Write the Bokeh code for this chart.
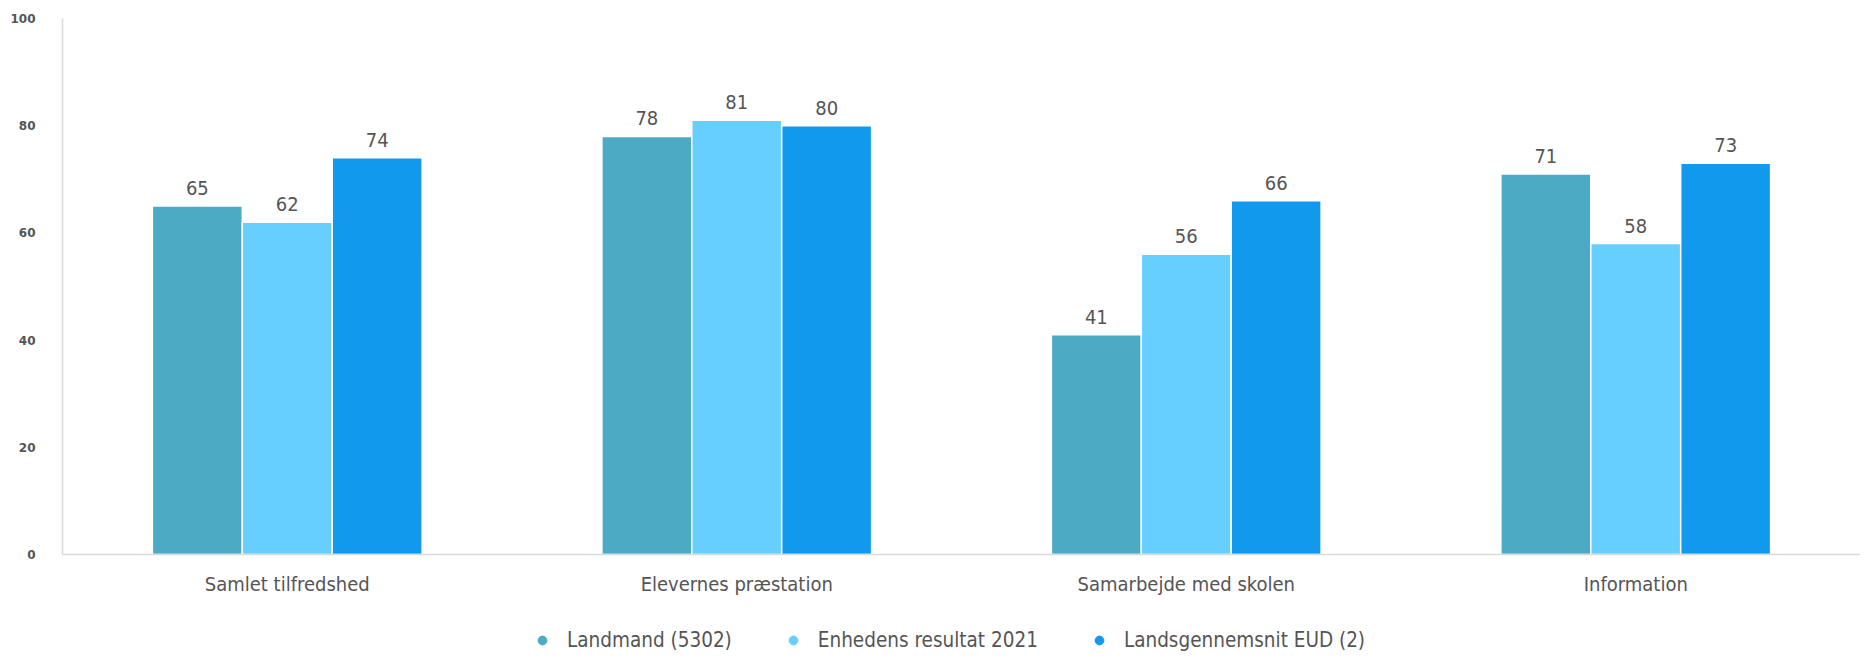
from bokeh.plotting import figure
from bokeh.models import FactorRange, Range1d, Legend, LegendItem, ColumnDataSource
from bokeh.layouts import column
from bokeh.transform import dodge
from bokeh.core.properties import value
from bokeh.embed import file_html
from bokeh.resources import INLINE

categories = ["Samlet tilfredshed", "Elevernes præstation", "Samarbejde med skolen", "Information"]
series_names = ["Landmand (5302)", "Enhedens resultat 2021", "Landsgennemsnit EUD (2)"]
landmand = [65, 78, 41, 71]
enheden = [62, 81, 56, 58]
landsgennemsnit = [74, 80, 66, 73]
y_ticks = [0, 20, 40, 60, 80, 100]

colors = ["#4BAAC4", "#66CFFF", "#1199EE"]
offsets = [-0.2, 0.0, 0.2]
series = [landmand, enheden, landsgennemsnit]

label_font = "DejaVu Sans Condensed"
text_grey = "#555555"

p = figure(width=1860, height=628, x_range=FactorRange(*categories), y_range=Range1d(0, 100),
           output_backend="svg", toolbar_location=None,
           min_border_left=62, min_border_right=0, min_border_top=18, min_border_bottom=74)
p.outline_line_color = None
p.xgrid.grid_line_color = None
p.ygrid.grid_line_color = None

for name, vals, col, off in zip(series_names, series, colors, offsets):
    src = ColumnDataSource(dict(cat=categories, val=vals, lab=[str(v) for v in vals]))
    p.vbar(x=dodge("cat", off, range=p.x_range), top="val", width=0.2, bottom=0,
           source=src, fill_color=col, line_color="white", line_width=1.5)
    p.text(x=dodge("cat", off, range=p.x_range), y="val", text="lab", source=src,
           text_align="center", text_baseline="alphabetic", y_offset=-18,
           text_font=value(label_font), text_font_size="20px", text_color=text_grey)

p.yaxis.ticker = y_ticks
p.yaxis.axis_line_color = "#d9d9d9"
p.yaxis.axis_line_width = 1.5
p.yaxis.major_tick_line_color = None
p.yaxis.minor_tick_line_color = None
p.yaxis.major_tick_out = 0
p.yaxis.major_tick_in = 0
p.yaxis.minor_tick_out = 0
p.yaxis.major_label_standoff = 27
p.yaxis.major_label_text_font = "DejaVu Sans"
p.yaxis.major_label_text_font_style = "bold"
p.yaxis.major_label_text_font_size = "12px"
p.yaxis.major_label_text_color = text_grey

p.xaxis.axis_line_color = "#d9d9d9"
p.xaxis.axis_line_width = 1.5
p.xaxis.major_tick_line_color = None
p.xaxis.minor_tick_line_color = None
p.xaxis.major_tick_out = 0
p.xaxis.major_tick_in = 0
p.xaxis.minor_tick_out = 0
p.xaxis.major_label_standoff = 17
p.xaxis.major_label_text_font = label_font
p.xaxis.major_label_text_font_size = "20px"
p.xaxis.major_label_text_color = text_grey

# legend strip below the chart
lg = figure(width=1860, height=24, x_range=Range1d(0, 1), y_range=Range1d(0, 1),
            x_axis_type=None, y_axis_type=None, output_backend="svg", toolbar_location=None,
            min_border_left=0, min_border_right=0, min_border_top=0, min_border_bottom=0)
lg.outline_line_color = None
lg.xgrid.grid_line_color = None
lg.ygrid.grid_line_color = None

legend_items = []
for name, col in zip(series_names, colors):
    # swatch source lies outside the strip's ranges; only its legend glyph is seen
    r = lg.scatter(x=[-1], y=[-1], marker="circle", size=9, fill_color=col, line_color=col)
    legend_items.append(LegendItem(label=name, renderers=[r]))

legend = Legend(items=legend_items, orientation="horizontal", location=(469, 0),
                glyph_width=22, glyph_height=22, label_height=20, label_standoff=14,
                spacing=50, padding=0, margin=0, border_line_color=None,
                background_fill_alpha=0,
                label_text_font=label_font, label_text_font_size="20.5px",
                label_text_color=text_grey)
lg.add_layout(legend, "center")

layout = column(p, lg, spacing=0)
open("out.html", "w").write(file_html(layout, INLINE))
